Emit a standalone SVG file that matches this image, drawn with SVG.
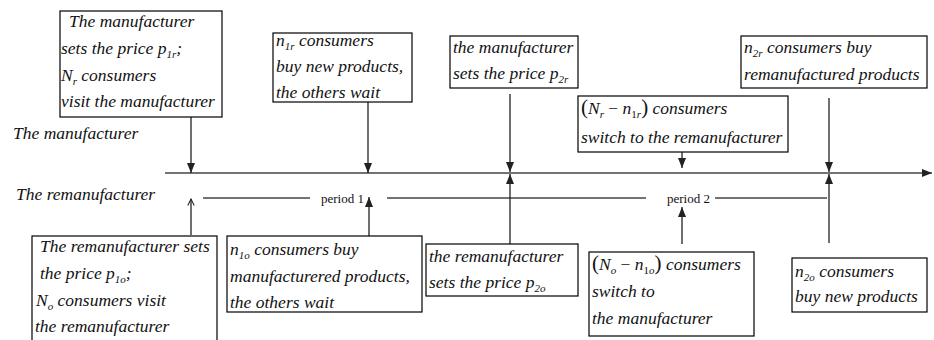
<svg xmlns="http://www.w3.org/2000/svg" width="934" height="340" viewBox="0 0 934 340">
<style>
.box{fill:#fff;stroke:#000;stroke-width:1.2}
.t{font-family:"Liberation Serif","Times New Roman",serif;font-style:italic;font-size:17.5px;fill:#111}
.s{font-size:11px}
.u{font-style:normal}
.p{font-family:"Liberation Serif","Times New Roman",serif;font-size:13px;fill:#111}
.ln{stroke:#444;stroke-width:1.4;fill:none}
.ar{stroke:#222;stroke-width:1.3;fill:none}
</style>
<defs>
<marker id="ah" viewBox="0 0 10 8" refX="10" refY="4" markerWidth="10" markerHeight="8" markerUnits="userSpaceOnUse" orient="auto"><path d="M0,0 L10,4 L0,8 z" fill="#222"/></marker>
<marker id="oh" viewBox="0 0 10 10" refX="9" refY="5" markerWidth="8" markerHeight="8" markerUnits="userSpaceOnUse" orient="auto"><path d="M1,1 L9,5 L1,9" fill="none" stroke="#222" stroke-width="1.3"/></marker>
</defs>

<text class="t" x="13" y="139">The manufacturer</text>
<text class="t" x="16" y="200">The remanufacturer</text>

<g id="connectors">
<line class="ln" x1="165" y1="173" x2="932" y2="173" marker-end="url(#ah)"/>
<line class="ln" x1="203" y1="198" x2="310" y2="198"/>
<line class="ln" x1="387" y1="198" x2="646" y2="198"/>
<line class="ln" x1="715" y1="198" x2="827" y2="198"/>
<line class="ar" x1="191" y1="117" x2="191" y2="173" marker-end="url(#ah)"/>
<line class="ar" x1="368" y1="102" x2="368" y2="173" marker-end="url(#ah)"/>
<line class="ar" x1="510" y1="94" x2="510" y2="172" marker-end="url(#ah)"/>
<line class="ar" x1="682" y1="152" x2="682" y2="168" marker-end="url(#ah)"/>
<line class="ar" x1="829" y1="98" x2="829" y2="172" marker-end="url(#ah)"/>
<line class="ar" x1="191" y1="235" x2="191" y2="199" marker-end="url(#oh)"/>
<line class="ar" x1="369" y1="236" x2="369" y2="197" marker-end="url(#ah)"/>
<line class="ar" x1="510" y1="248" x2="510" y2="174" marker-end="url(#ah)"/>
<line class="ar" x1="682" y1="244" x2="682" y2="207" marker-end="url(#ah)"/>
<line class="ar" x1="829" y1="243" x2="829" y2="174" marker-end="url(#ah)"/>
</g>

<text class="p" x="321" y="203">period 1</text>
<text class="p" x="667" y="203">period 2</text>

<g id="n1">
<rect class="box" x="60" y="11" width="162" height="106"/>
<text class="t" x="69" y="27">The manufacturer</text>
<text class="t" x="61" y="54">sets the price p<tspan class="s" dy="4">1r</tspan><tspan dy="-4">;</tspan></text>
<text class="t" x="61" y="81">N<tspan class="s" dy="4">r</tspan><tspan dy="-4"> consumers</tspan></text>
<text class="t" x="61" y="107">visit the manufacturer</text>
</g>

<g id="n2">
<rect class="box" x="273" y="33" width="139" height="69"/>
<text class="t" x="276" y="46">n<tspan class="s" dy="4">1r</tspan><tspan dy="-4">  consumers</tspan></text>
<text class="t" x="276" y="72">buy new products,</text>
<text class="t" x="276" y="98">the others wait</text>
</g>

<g id="n3">
<rect class="box" x="450" y="36" width="128" height="52"/>
<text class="t" x="453" y="53">the manufacturer</text>
<text class="t" x="453" y="79">sets the price p<tspan class="s" dy="4">2r</tspan></text>
</g>

<g id="n4">
<rect class="box" x="578" y="96" width="210" height="56"/>
<text class="t" x="581" y="114"><tspan class="u" font-size="21">(</tspan>N<tspan class="s" dy="4">r</tspan><tspan dy="-4" class="u"> − </tspan>n<tspan class="s" dy="4"><tspan class="u">1</tspan>r</tspan><tspan dy="-4" class="u" font-size="21">)</tspan> consumers</text>
<text class="t" x="581" y="143">switch to the remanufacturer</text>
</g>

<g id="n5">
<rect class="box" x="741" y="36" width="186" height="52"/>
<text class="t" x="744" y="53">n<tspan class="s" dy="4">2r</tspan><tspan dy="-4"> consumers buy</tspan></text>
<text class="t" x="744" y="80">remanufactured products</text>
</g>

<g id="n6">
<rect class="box" x="32" y="236" width="185" height="115"/>
<text class="t" x="40" y="252">The remanufacturer sets</text>
<text class="t" x="40" y="279">the price p<tspan class="s" dy="4">1o</tspan><tspan dy="-4">;</tspan></text>
<text class="t" x="36" y="306">N<tspan class="s" dy="4">o</tspan><tspan dy="-4"> consumers visit</tspan></text>
<text class="t" x="35" y="332">the remanufacturer</text>
</g>

<g id="n7">
<rect class="box" x="227" y="236" width="195" height="76"/>
<text class="t" x="230" y="255">n<tspan class="s" dy="4">1o</tspan><tspan dy="-4"> consumers buy</tspan></text>
<text class="t" x="230" y="282">manufacturered products,</text>
<text class="t" x="230" y="308">the others wait</text>
</g>

<g id="n8">
<rect class="box" x="426" y="244" width="152" height="52"/>
<text class="t" x="429" y="262">the remanufacturer</text>
<text class="t" x="429" y="288">sets the price p<tspan class="s" dy="4">2o</tspan></text>
</g>

<g id="n9">
<rect class="box" x="589" y="252" width="165" height="84"/>
<text class="t" x="592" y="270"><tspan class="u" font-size="21">(</tspan>N<tspan class="s" dy="4">o</tspan><tspan dy="-4" class="u"> − </tspan>n<tspan class="s" dy="4"><tspan class="u">1</tspan>o</tspan><tspan dy="-4" class="u" font-size="21">)</tspan> consumers</text>
<text class="t" x="592" y="297">switch to</text>
<text class="t" x="592" y="324">the manufacturer</text>
</g>

<g id="n10">
<rect class="box" x="792" y="258" width="135" height="54"/>
<text class="t" x="795" y="277">n<tspan class="s" dy="4">2o</tspan><tspan dy="-4"> consumers</tspan></text>
<text class="t" x="795" y="302">buy new products</text>
</g>
</svg>
